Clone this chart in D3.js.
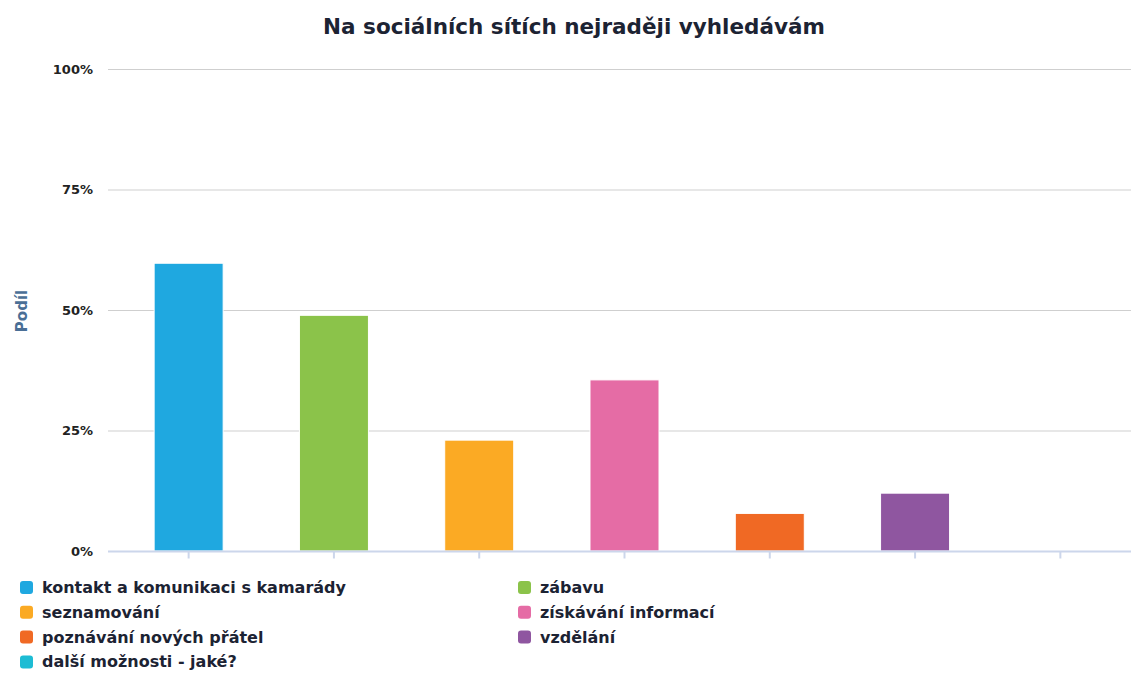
<!DOCTYPE html>
<html>
<head>
<meta charset="utf-8">
<script src="https://cdn.jsdelivr.net/npm/d3@7"></script>
<style>
  body { margin: 0; background: #fff; }
  svg { display: block; font-family: "DejaVu Sans", sans-serif; }
</style>
</head>
<body>
<div id="chart"></div>
<script>
// data
var categories = [
    'kontakt a komunikaci s kamarády',
    'zábavu',
    'seznamování',
    'získávání informací',
    'poznávání nových přátel',
    'vzdělání',
    'další možnosti - jaké?'
];
var shares = [59.7, 48.9, 23.0, 35.5, 7.8, 12.0, 0];
var colors = ['#1fa8e0', '#8bc34a', '#fbaa24', '#e56ca5', '#f06924', '#8f56a0', '#1dbcd4'];
var yTicks = [0, 25, 50, 75, 100];

var width = 1131, height = 679;

var svg = d3.select('#chart').append('svg')
    .attr('width', width).attr('height', height);

// scales
var x = d3.scaleBand().domain(categories).range([116, 1133]).paddingInner(0.525).paddingOuter(0.2625);
var y = d3.scaleLinear().domain([0, 100]).range([551, 69]);

// title
svg.append('text')
    .attr('x', 574).attr('y', 34)
    .attr('text-anchor', 'middle')
    .attr('font-size', '21.5px').attr('font-weight', 'bold')
    .attr('fill', '#1c2333')
    .text('Na sociálních sítích nejraději vyhledávám');

// gridlines
svg.append('g').selectAll('line')
    .data(yTicks.filter(function(d) { return d > 0; })).enter().append('line')
    .attr('x1', 108).attr('x2', width)
    .attr('y1', function(d) { return y(d) + 0.5; })
    .attr('y2', function(d) { return y(d) + 0.5; })
    .attr('stroke', '#cfcfcf').attr('stroke-width', 1);

// y axis labels
var yAxis = svg.append('g')
    .attr('transform', 'translate(93,0)')
    .call(d3.axisLeft(y).tickValues(yTicks).tickSize(0).tickPadding(0)
        .tickFormat(function(d) { return d + '%'; }));
yAxis.select('.domain').remove();
yAxis.selectAll('text')
    .attr('font-family', '"DejaVu Sans", sans-serif')
    .attr('font-size', '13px').attr('font-weight', 'bold')
    .attr('fill', '#222');

// y axis title
svg.append('text')
    .attr('transform', 'translate(27,311) rotate(-90)')
    .attr('text-anchor', 'middle')
    .attr('font-size', '15px').attr('font-weight', 'bold')
    .attr('fill', '#4a6f96')
    .text('Podíl');

// bars
svg.append('g').selectAll('rect')
    .data(categories).enter().append('rect')
    .attr('x', function(d) { return x(d); })
    .attr('y', function(d, i) { return y(shares[i]); })
    .attr('width', x.bandwidth())
    .attr('height', function(d, i) { return y(0) - y(shares[i]); })
    .attr('fill', function(d, i) { return colors[i]; })
    .attr('stroke', '#fff').attr('stroke-width', 1);

// x axis
var xAxis = svg.append('g')
    .attr('transform', 'translate(0,' + (y(0) + 0.5) + ')')
    .call(d3.axisBottom(x).tickSize(7).tickSizeOuter(0).tickFormat(''));
xAxis.select('.domain').attr('stroke', '#ccd6eb').attr('stroke-width', 2)
    .attr('d', 'M108,0H' + width);
xAxis.selectAll('.tick line').attr('stroke', '#ccd6eb').attr('stroke-width', 2);

// legend
var legend = svg.append('g').selectAll('g')
    .data(categories).enter().append('g')
    .attr('transform', function(d, i) {
        return 'translate(' + (i % 2 * 498 + 20) + ',' + (Math.floor(i / 2) * 24.8 + 587) + ')';
    });
legend.append('rect')
    .attr('x', 0).attr('y', -6)
    .attr('width', 13).attr('height', 13)
    .attr('rx', 3).attr('ry', 3)
    .attr('fill', function(d, i) { return colors[i]; });
legend.append('text')
    .attr('x', 22).attr('y', 6)
    .attr('font-size', '16px').attr('font-weight', 'bold')
    .attr('fill', '#1c2333')
    .text(function(d) { return d; });
</script>
</body>
</html>
